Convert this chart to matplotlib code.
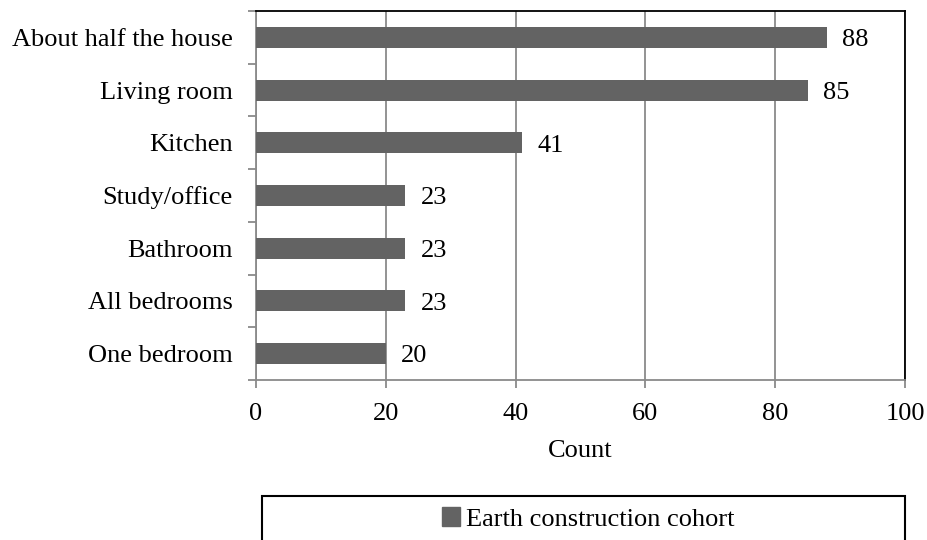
import matplotlib
matplotlib.use("Agg")
import matplotlib.pyplot as plt
from matplotlib.patches import Rectangle, Patch
from matplotlib.ticker import FixedLocator

categories = ["About half the house", "Living room", "Kitchen", "Study/office",
              "Bathroom", "All bedrooms", "One bedroom"]
counts = [88, 85, 41, 23, 23, 23, 20]
series_name = "Earth construction cohort"
x_ticks = [0, 20, 40, 60, 80, 100]

plt.rcParams["font.family"] = ["Liberation Serif", "DejaVu Serif"]
FS = 19

bar_color = "#636363"
axis_gray = "#8a8a8a"

fig = plt.figure(figsize=(9.27, 5.40), dpi=100)
ax = fig.add_axes([256 / 927, 1 - 380 / 540, (905 - 256) / 927, (380 - 11) / 540])

ypos = list(range(len(categories)))
ax.barh(ypos, counts, height=0.4, color=bar_color, zorder=3)
for y, v in zip(ypos, counts):
    ax.annotate(str(v), (v, y), xytext=(11, -2), textcoords="offset points",
                va="center", ha="left", fontsize=FS)

ax.set_xlim(0, 100)
ax.set_ylim(len(categories) - 0.5, -0.5)
ax.set_xticks(x_ticks)
ax.set_xticklabels([str(t) for t in x_ticks], fontsize=FS)
ax.set_yticks(ypos)
ax.set_yticklabels(categories, fontsize=FS)
ax.yaxis.set_minor_locator(FixedLocator([i - 0.5 for i in range(len(categories) + 1)]))
ax.tick_params(axis="y", which="major", length=0, pad=17)
ax.tick_params(axis="y", which="minor", length=6, width=1.3, color=axis_gray, direction="out")
ax.tick_params(axis="x", which="major", length=5.5, width=1.3, color=axis_gray, pad=11)
ax.set_xlabel("Count", fontsize=FS, labelpad=11)

ax.grid(axis="x", color=axis_gray, linewidth=1.3, zorder=0)
for side in ("left", "bottom"):
    ax.spines[side].set_color(axis_gray)
    ax.spines[side].set_linewidth(1.3)
for side in ("top", "right"):
    ax.spines[side].set_color("black")
    ax.spines[side].set_linewidth(1.3)

# legend box running off the bottom edge
fig.patches.append(Rectangle((262 / 927, -0.05), (905 - 262) / 927, 0.05 + (540 - 496) / 540,
                             transform=fig.transFigure, fill=False, edgecolor="black",
                             linewidth=1.5))
fig.legend(handles=[Patch(color=bar_color, label=series_name)],
           loc="center", bbox_to_anchor=(588 / 927, 1 - 519 / 540),
           frameon=False, fontsize=FS, handlelength=0.7, handleheight=0.7,
           handletextpad=0.2, borderpad=0)

fig.savefig("out.png", dpi=100)
